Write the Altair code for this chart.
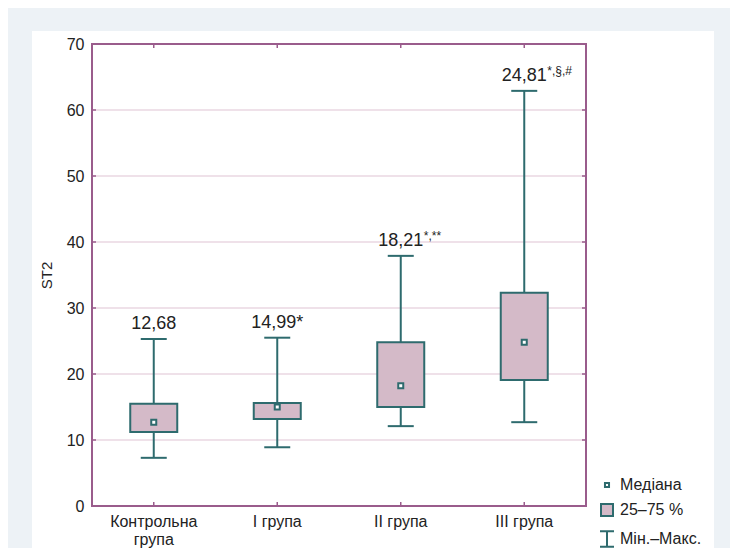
import altair as alt
import pandas as pd

# ---- data ----
groups = ["Контрольна група", "I група", "II група", "III група"]
mins = [7.3, 8.9, 12.1, 12.7]
q1 = [11.2, 13.2, 15.0, 19.1]
medians = [12.68, 14.99, 18.21, 24.81]
q3 = [15.5, 15.6, 24.8, 32.3]
maxs = [25.3, 25.5, 37.9, 62.9]
labels = ["12,68", "14,99*", "18,21", "24,81"]
sups = ["", "", "*,**", "*,§,#"]
y_ticks = [0, 10, 20, 30, 40, 50, 60, 70]
grid_vals = [10, 20, 30, 40, 50, 60]
legend_items = ["Медіана", "25–75 %", "Мін.–Макс."]

TEAL = "#2E6B6E"
PINK = "#D4BAC8"
FRAME = "#9A5C8C"
GRID = "#DFC3D3"
TEXT = "#222222"
FONT = "Liberation Sans"
W, H = 494, 462

df = pd.DataFrame({"group": groups, "min": mins, "q1": q1, "med": medians,
                   "q3": q3, "max": maxs, "label": labels, "sup": sups})
grid_df = pd.DataFrame({"v": grid_vals})
leg_df = pd.DataFrame({"item": legend_items, "v": [-10] * 3})
bg_df = pd.DataFrame({"a": [0]})

yscale = alt.Scale(domain=[0, 70], nice=False, zero=True)
yaxis = alt.Axis(values=y_ticks, title="ST2", ticks=False, domain=False, grid=False,
                 labelFontSize=16, labelColor=TEXT, labelPadding=8, labelFont=FONT,
                 titleFontSize=15, titleFontWeight="normal", titleColor=TEXT,
                 titleFont=FONT, titlePadding=12, zindex=1)
xscale = alt.Scale(domain=groups, paddingInner=0, paddingOuter=0)
xaxis = alt.Axis(title=None, labelAngle=0, ticks=False, domain=False, grid=False,
                 labelFontSize=16, labelColor=TEXT, labelFont=FONT, labelPadding=7,
                 labelLineHeight=18, zindex=1,
                 labelExpr="datum.label == 'Контрольна група' ? ['Контрольна', 'група'] : datum.label")


def X():
    return alt.X("group:N", scale=xscale, axis=xaxis, sort=groups)


def Y(field):
    return alt.Y(field, scale=yscale, axis=yaxis)


panel = alt.Chart(bg_df).mark_rect(fill="white").encode(
    x=alt.value(-60), x2=alt.value(W + 128), y=alt.value(-13), y2=alt.value(H + 50))

grid = alt.Chart(grid_df).mark_rule(color=GRID, strokeWidth=1).encode(y=Y("v:Q"))

ltick = alt.Chart(grid_df).mark_rule(color=FRAME, strokeWidth=1.5).encode(
    y=Y("v:Q"), x=alt.value(0), x2=alt.value(4))
rtick = alt.Chart(grid_df).mark_rule(color=FRAME, strokeWidth=1.5).encode(
    y=Y("v:Q"), x=alt.value(W - 4), x2=alt.value(W))

base = alt.Chart(df)
btick = base.mark_rule(color=FRAME, strokeWidth=1.5).encode(
    x=X(), y=alt.value(H), y2=alt.value(H - 4))
ttick = base.mark_rule(color=FRAME, strokeWidth=1.5).encode(
    x=X(), y=alt.value(0), y2=alt.value(4))

frame = alt.Chart(bg_df).mark_rect(fill="transparent", stroke=FRAME, strokeWidth=2).encode(
    x=alt.value(0), x2=alt.value(W), y=alt.value(0), y2=alt.value(H))

whisk = base.mark_rule(color=TEAL, strokeWidth=2).encode(x=X(), y=Y("min:Q"), y2="max:Q")
cap_hi = base.mark_tick(color=TEAL, size=26, thickness=2, opacity=1).encode(x=X(), y=Y("max:Q"))
cap_lo = base.mark_tick(color=TEAL, size=26, thickness=2, opacity=1).encode(x=X(), y=Y("min:Q"))
box = base.mark_bar(size=47, fill=PINK, stroke=TEAL, strokeWidth=2, opacity=1).encode(
    x=X(), y=Y("q1:Q"), y2="q3:Q")
med = base.mark_square(size=25, fill="white", stroke=TEAL, strokeWidth=2, opacity=1,
                       filled=False).encode(x=X(), y=Y("med:Q"))
lab = base.mark_text(fontSize=18, dy=-10, baseline="alphabetic", align="center",
                     color=TEXT, font=FONT).encode(x=X(), y=Y("max:Q"), text="label:N")
sup = base.mark_text(fontSize=12, dx=23, dy=-16, baseline="alphabetic", align="left",
                     color=TEXT, font=FONT).encode(x=X(), y=Y("max:Q"), text="sup:N")

paths = ["M-0.29,-0.29H0.29V0.29H-0.29Z",
         "M-0.857,-0.857H0.857V0.857H-0.857Z",
         "M-1,-1.1H1M0,-1.1V1.1M-1,1.1H1"]
fills = ["white", PINK, "transparent"]
leg = alt.Legend(title=None, orient="none", legendX=507, legendY=433, padding=0,
                 labelFontSize=16, labelColor=TEXT, labelFont=FONT, labelOffset=5,
                 rowPadding=7, symbolStrokeWidth=2, symbolSize=196,
                 symbolStrokeColor=TEAL, symbolOpacity=1)
legend_layer = alt.Chart(leg_df).mark_point(stroke=TEAL, strokeWidth=2, size=196,
                                            opacity=1, clip=True).encode(
    x=alt.value(10),
    y=Y("v:Q"),
    shape=alt.Shape("item:N", scale=alt.Scale(domain=legend_items, range=paths), legend=leg),
    fill=alt.Fill("item:N", scale=alt.Scale(domain=legend_items, range=fills), legend=leg),
    stroke=alt.Stroke("item:N", scale=alt.Scale(domain=legend_items, range=[TEAL, TEAL, TEAL]),
                      legend=leg),
)

chart = alt.layer(panel, grid, ltick, rtick, btick, ttick, whisk, cap_hi, cap_lo, box,
                  med, frame, lab, sup, legend_layer).properties(
    width=W, height=H,
    autosize=alt.AutoSizeParams(type="none"),
    padding={"left": 84, "top": 36, "right": 144, "bottom": 42},
    background="#EDF2F6",
).configure_view(stroke=FRAME, strokeWidth=2).configure(font=FONT)

chart.save("out.html", embed_options={"renderer": "svg", "actions": False})
